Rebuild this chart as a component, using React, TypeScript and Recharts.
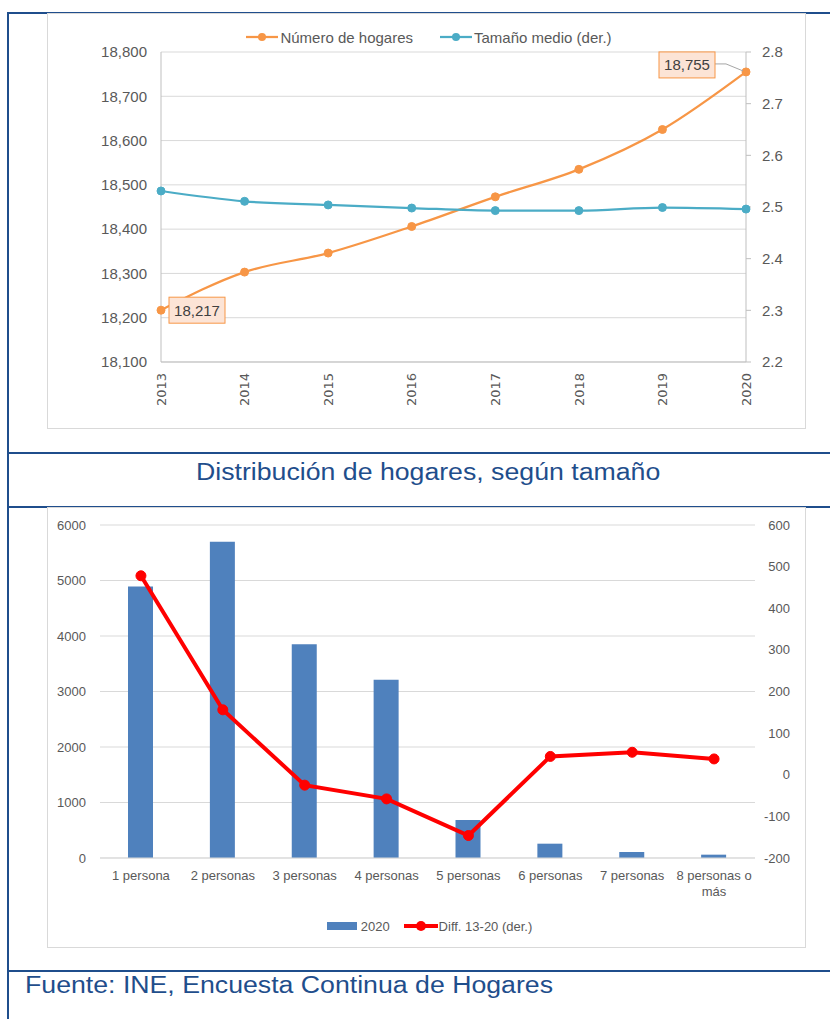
import React from "react";
import {
  LineChart,
  Line,
  ComposedChart,
  Bar,
  XAxis,
  YAxis,
  CartesianGrid,
  Legend,
  LabelList,
  Text,
} from "recharts";

// top chart: households and mean size
const years = ["2013", "2014", "2015", "2016", "2017", "2018", "2019", "2020"];
const numHogares = [18217, 18303, 18346, 18406, 18473, 18535, 18625, 18755];
const tamanoMedio = [2.531, 2.511, 2.504, 2.498, 2.493, 2.493, 2.499, 2.496];
const hogaresTicks = [18100, 18200, 18300, 18400, 18500, 18600, 18700, 18800];
const tamanoTicks = [2.2, 2.3, 2.4, 2.5, 2.6, 2.7, 2.8];

// bottom chart: households by size
const sizes = [
  "1 persona",
  "2 personas",
  "3 personas",
  "4 personas",
  "5 personas",
  "6 personas",
  "7 personas",
  "8 personas o más",
];
const hogares2020 = [4890, 5700, 3852, 3210, 684, 258, 108, 60];
const diff1320 = [478, 156, -25, -58, -146, 44, 54, 38];
const countTicks = [0, 1000, 2000, 3000, 4000, 5000, 6000];
const diffTicks = [-200, -100, 0, 100, 200, 300, 400, 500, 600];

const topData = years.map((y, i) => ({
  year: y,
  hogares: numHogares[i],
  tamano: tamanoMedio[i],
}));

const bottomData = sizes.map((s, i) => ({
  size: s,
  v2020: hogares2020[i],
  diff: diff1320[i],
}));

const BLUE = "#1F4E8C";
const ORANGE = "#F79646";
const TEAL = "#4BACC6";
const GRAY_TXT = "#595959";

const commas = (v: number) => String(v).replace(/\B(?=(\d{3})+(?!\d))/g, ",");

const YearTick = ({ x, y, payload }: any) => (
  <text
    transform={`translate(${x},${y + 11}) rotate(-90)`}
    textAnchor="end"
    dy="0.36em"
    fill={GRAY_TXT}
    fontSize={13}
    fontFamily="DejaVu Sans"
  >
    {payload.value}
  </text>
);

const EndLabel = (props: any) => {
  const { x, y, value, index } = props;
  if (index !== 0 && index !== numHogares.length - 1) return null;
  const w = 56;
  const h = 26;
  const bx = index === 0 ? x + 8 : x - 31 - w;
  const by = index === 0 ? y - 13 : y - 20;
  return (
    <g>
      {index !== 0 && (
        <path
          d={`M${bx + w} ${y - 8} L${x - 20} ${y - 8} L${x - 3} ${y - 1}`}
          stroke="#A6A6A6"
          fill="none"
        />
      )}
      <rect x={bx} y={by} width={w} height={h} fill="#FCE4D6" stroke={ORANGE} />
      <text
        x={bx + w / 2}
        y={by + h / 2}
        dy="0.36em"
        textAnchor="middle"
        fill="#404040"
        fontSize={15}
      >
        {commas(value)}
      </text>
    </g>
  );
};

const TopLegend = ({ payload }: any) => (
  <div
    style={{
      display: "flex",
      justifyContent: "center",
      alignItems: "center",
      gap: 27,
      height: 18,
      fontSize: 15,
      color: GRAY_TXT,
      paddingLeft: 5,
    }}
  >
    {(payload || []).map((e: any) => (
      <span key={e.value} style={{ display: "flex", alignItems: "center" }}>
        <svg width={32} height={10}>
          <line x1={0} y1={5} x2={32} y2={5} stroke={e.color} strokeWidth={2.25} />
          <circle cx={16} cy={5} r={4} fill={e.color} />
        </svg>
        <span style={{ marginLeft: 2 }}>{e.value}</span>
      </span>
    ))}
  </div>
);

const SizeTick = ({ x, y, payload }: any) => (
  <Text
    x={x}
    y={y}
    width={82}
    textAnchor="middle"
    verticalAnchor="start"
    fill={GRAY_TXT}
    fontSize={13}
    lineHeight={16}
  >
    {payload.value}
  </Text>
);

const DiffTick = ({ x, y, payload }: any) => (
  <text x={x + 35} y={y} dy="0.355em" textAnchor="end" fill={GRAY_TXT} fontSize={13}>
    {payload.value}
  </text>
);

const BottomLegend = ({ payload }: any) => (
  <div
    style={{
      display: "flex",
      justifyContent: "center",
      alignItems: "center",
      gap: 14,
      height: 16,
      fontSize: 13,
      color: GRAY_TXT,
      paddingLeft: 6,
    }}
  >
    {(payload || []).map((e: any) => (
      <span key={e.value} style={{ display: "flex", alignItems: "center" }}>
        {e.dataKey === "v2020" ? (
          <svg width={30} height={8}>
            <rect x={0} y={0} width={30} height={8} fill={e.color} />
          </svg>
        ) : (
          <svg width={34} height={12}>
            <line x1={0} y1={6} x2={34} y2={6} stroke={e.color} strokeWidth={4} />
            <circle cx={17} cy={6} r={5} fill={e.color} />
          </svg>
        )}
        <span style={{ marginLeft: e.dataKey === "v2020" ? 4 : 1 }}>{e.value}</span>
      </span>
    ))}
  </div>
);

const line = (style: React.CSSProperties) => (
  <div style={{ position: "absolute", background: BLUE, ...style }} />
);

export default function App() {
  return (
    <div
      style={{
        position: "absolute",
        left: 0,
        top: 0,
        width: 830,
        height: 1019,
        background: "#fff",
        overflow: "hidden",
        fontFamily: "'Liberation Sans', Arial, sans-serif",
      }}
    >
      {line({ left: 7, top: 12, width: 2, height: 1007 })}
      {line({ left: 7, top: 12, width: 823, height: 2 })}
      {line({ left: 7, top: 452, width: 823, height: 2 })}
      {line({ left: 7, top: 506, width: 823, height: 2 })}
      {line({ left: 7, top: 970, width: 823, height: 2 })}

      <div
        style={{
          position: "absolute",
          left: 47,
          top: 13,
          width: 757,
          height: 414,
          border: "1px solid #D9D9D9",
        }}
      />
      <div
        style={{
          position: "absolute",
          left: 47,
          top: 507,
          width: 757,
          height: 439,
          border: "1px solid #D9D9D9",
        }}
      />

      <div style={{ position: "absolute", left: 48, top: 14 }}>
        <LineChart
          width={757}
          height={414}
          data={topData}
          margin={{ top: 38, right: 0, bottom: 0, left: 0 }}
        >
          <CartesianGrid yAxisId="l" vertical={false} stroke="#D9D9D9" />
          <XAxis
            dataKey="year"
            height={66}
            tickSize={0}
            tickMargin={0}
            axisLine={{ stroke: "#BFBFBF" }}
            tick={<YearTick />}
            interval={0}
          />
          <YAxis
            yAxisId="l"
            width={113}
            domain={[18100, 18800]}
            ticks={hogaresTicks}
            tickFormatter={commas}
            axisLine={{ stroke: "#BFBFBF" }}
            tickLine={false}
            tickSize={0}
            tickMargin={14}
            tick={{ fill: GRAY_TXT, fontSize: 15 }}
          />
          <YAxis
            yAxisId="r"
            orientation="right"
            width={59}
            domain={[2.2, 2.8]}
            ticks={tamanoTicks}
            tickFormatter={(v: number) => v.toFixed(1)}
            axisLine={{ stroke: "#BFBFBF" }}
            tickLine={{ stroke: "#BFBFBF" }}
            tickSize={5}
            tickMargin={11}
            tick={{ fill: GRAY_TXT, fontSize: 15 }}
          />
          <Legend
            layout="horizontal"
            verticalAlign="middle"
            align="center"
            wrapperStyle={{ top: 14, left: 0, width: 757 }}
            content={<TopLegend />}
          />
          <Line
            yAxisId="l"
            dataKey="hogares"
            name="Número de hogares"
            type="monotone"
            stroke={ORANGE}
            strokeWidth={2.25}
            dot={{ r: 4, fill: ORANGE, stroke: ORANGE, strokeWidth: 1 }}
            isAnimationActive={false}
          >
            <LabelList dataKey="hogares" content={<EndLabel />} />
          </Line>
          <Line
            yAxisId="r"
            dataKey="tamano"
            name="Tamaño medio (der.)"
            type="monotone"
            stroke={TEAL}
            strokeWidth={2.25}
            dot={{ r: 4, fill: TEAL, stroke: TEAL, strokeWidth: 1 }}
            isAnimationActive={false}
          />
        </LineChart>
      </div>

      <div
        style={{
          position: "absolute",
          left: 196,
          top: 461,
          fontSize: 23,
          lineHeight: "23px",
          color: BLUE,
          whiteSpace: "nowrap",
          transform: "scaleX(1.16)",
          transformOrigin: "left top",
        }}
      >
        Distribución de hogares, según tamaño
      </div>

      <div style={{ position: "absolute", left: 48, top: 507 }}>
        <ComposedChart
          width={757}
          height={440}
          data={bottomData}
          margin={{ top: 18, right: 0, bottom: 0, left: 0 }}
        >
          <CartesianGrid yAxisId="l" vertical={false} stroke="#D9D9D9" />
          <XAxis
            dataKey="size"
            height={89}
            tickSize={0}
            tickMargin={13}
            axisLine={{ stroke: "#D9D9D9" }}
            tick={<SizeTick />}
            interval={0}
          />
          <YAxis
            yAxisId="l"
            width={52}
            domain={[0, 6000]}
            ticks={countTicks}
            axisLine={false}
            tickLine={false}
            tickSize={0}
            tickMargin={14}
            tick={{ fill: GRAY_TXT, fontSize: 13 }}
          />
          <YAxis
            yAxisId="r"
            orientation="right"
            width={50}
            domain={[-200, 600]}
            ticks={diffTicks}
            axisLine={false}
            tickLine={false}
            tickSize={0}
            tickMargin={0}
            tick={<DiffTick />}
          />
          <Legend
            layout="horizontal"
            verticalAlign="middle"
            align="center"
            wrapperStyle={{ top: 411, left: 0, width: 757 }}
            content={<BottomLegend />}
          />
          <Bar
            yAxisId="l"
            dataKey="v2020"
            name="2020"
            fill="#4F81BD"
            barSize={25}
            isAnimationActive={false}
          />
          <Line
            yAxisId="r"
            dataKey="diff"
            name="Diff. 13-20 (der.)"
            type="linear"
            stroke="#FF0000"
            strokeWidth={4}
            dot={{ r: 5, fill: "#FF0000", stroke: "#FF0000", strokeWidth: 1 }}
            isAnimationActive={false}
          />
        </ComposedChart>
      </div>

      <div
        style={{
          position: "absolute",
          left: 25,
          top: 974,
          fontSize: 23,
          lineHeight: "23px",
          color: BLUE,
          whiteSpace: "nowrap",
          transform: "scaleX(1.16)",
          transformOrigin: "left top",
        }}
      >
        Fuente: INE, Encuesta Continua de Hogares
      </div>
    </div>
  );
}
